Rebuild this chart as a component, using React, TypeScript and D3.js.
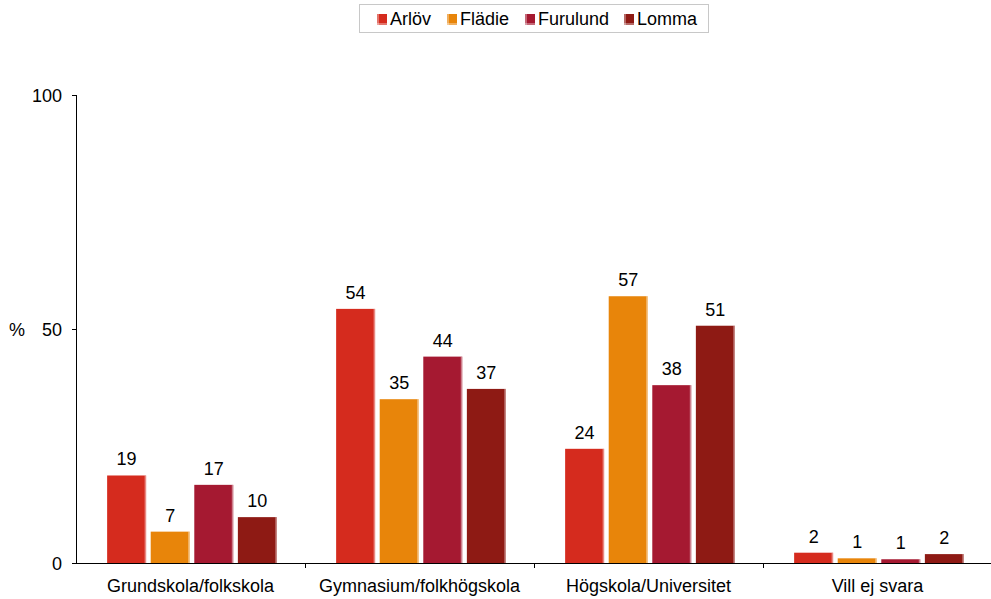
import React from "react";
import * as d3 from "d3";

const categories = ["Grundskola/folkskola", "Gymnasium/folkhögskola", "Högskola/Universitet", "Vill ej svara"];
const seriesNames = ["Arlöv", "Flädie", "Furulund", "Lomma"];
const arlov = [18.7, 54.3, 24.4, 2.2];
const fladie = [6.7, 35.0, 57.0, 1.0];
const furulund = [16.7, 44.1, 38.0, 0.8];
const lomma = [9.8, 37.2, 50.7, 1.9];
const seriesValues = [arlov, fladie, furulund, lomma];
const colors = ["#D52B1E", "#E8850A", "#A51931", "#8E1A14"];
const yTicks = [0, 50, 100];

const W = 991;
const H = 599;
const left = 76;
const right = 992;
const top = 95;
const bottom = 563;
const font = "'Liberation Sans', Arial, sans-serif";

export default function App() {
  const x = d3.scaleBand<string>().domain(categories).range([left, right]).padding(0);
  const xi = d3
    .scaleBand<string>()
    .domain(seriesNames)
    .range([0, x.bandwidth()])
    .paddingInner(0.105)
    .paddingOuter(0.68);
  const y = d3.scaleLinear().domain([0, 100]).range([bottom, top]);

  const legendItems = [
    { name: "Arlöv", mx: 377, tx: 390 },
    { name: "Flädie", mx: 447, tx: 460 },
    { name: "Furulund", mx: 525, tx: 538 },
    { name: "Lomma", mx: 624, tx: 637 },
  ];

  return (
    <svg
      width={W}
      height={H}
      style={{ position: "absolute", left: 0, top: 0, background: "#fff" }}
      fontFamily={font}
    >
      {/* legend */}
      <rect x={359.5} y={4.5} width={349} height={28} fill="#fff" stroke="#c8c8c8" strokeWidth={1} />
      {legendItems.map((it, i) => (
        <g key={it.name}>
          <rect x={it.mx} y={14} width={10} height={11} fill={colors[i]} />
          <rect x={it.mx} y={23} width={10} height={2} fill="#fff" opacity={0.35} />
          <rect x={it.mx} y={14} width={2} height={11} fill="#fff" opacity={0.35} />
          <text x={it.tx} y={25} fontSize={18} fill="#000">
            {it.name}
          </text>
        </g>
      ))}

      {/* bars */}
      {categories.map((c, ci) =>
        seriesNames.map((s, si) => {
          const v = seriesValues[si][ci];
          const bx = (x(c) ?? 0) + (xi(s) ?? 0) + 1.5;
          const bw = xi.bandwidth();
          return (
            <g key={c + s}>
              <rect x={bx} y={y(v)} width={bw} height={bottom - y(v)} fill={colors[si]} />
              <rect x={bx + bw - 1.5} y={y(v)} width={1.5} height={bottom - y(v)} fill="#fff" opacity={0.45} />
              <text
                x={bx + bw / 2}
                y={y(v) - 10}
                textAnchor="middle"
                fontSize={18}
                fill="#000"
              >
                {Math.round(v)}
              </text>
            </g>
          );
        })
      )}

      {/* y axis */}
      <line x1={left + 0.5} x2={left + 0.5} y1={top} y2={bottom} stroke="#000" />
      {yTicks.map((t) => (
        <g key={t}>
          <line x1={left - 4} x2={left + 0.5} y1={Math.round(y(t)) + 0.5} y2={Math.round(y(t)) + 0.5} stroke="#000" />
          <text x={62} y={y(t) + 6.5} textAnchor="end" fontSize={18} fill="#000">
            {t}
          </text>
        </g>
      ))}
      <text x={9} y={335.5} fontSize={18} fill="#000">
        %
      </text>

      {/* x axis */}
      <line x1={left - 4} x2={W} y1={bottom + 0.5} y2={bottom + 0.5} stroke="#000" />
      {categories.map((c, i) => (
        <g key={c}>
          {i > 0 && (
            <line
              x1={Math.round(x(c) ?? 0) + 0.5}
              x2={Math.round(x(c) ?? 0) + 0.5}
              y1={bottom}
              y2={bottom + 5}
              stroke="#000"
            />
          )}
          <text
            x={(x(c) ?? 0) + x.bandwidth() / 2}
            y={591.5}
            textAnchor="middle"
            fontSize={18}
            fill="#000"
          >
            {c}
          </text>
        </g>
      ))}
    </svg>
  );
}
